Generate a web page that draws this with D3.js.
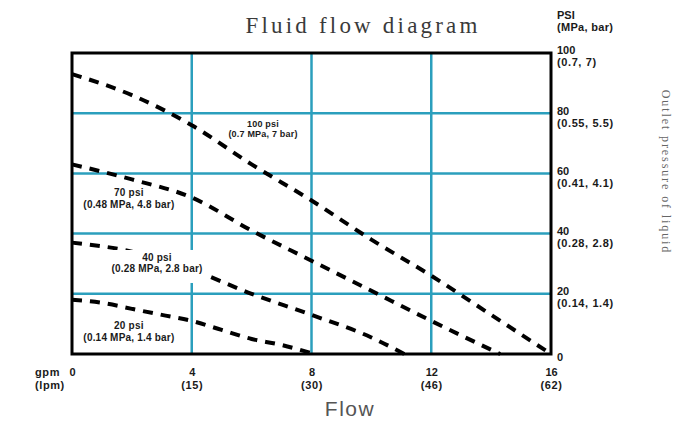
<!DOCTYPE html>
<html>
<head>
<meta charset="utf-8">
<script src="https://cdn.jsdelivr.net/npm/d3@7/dist/d3.min.js"></script>
<style>
  body { margin: 0; background: #fff; }
  svg { display: block; }
  .tick-num, .tick-sub, .unit { font-family: 'Liberation Sans', Arial, sans-serif; font-size: 11px; font-weight: bold; fill: #1a1a1a; }
  .curve-label { font-family: 'Liberation Sans', Arial, sans-serif; font-weight: bold; fill: #1a1a1a; }
</style>
</head>
<body>
<svg id="chart" width="693" height="424"></svg>
<script>
// flow (gpm) on x, outlet pressure (psi) on y
const gpmTicks = [0, 4, 8, 12, 16]
const lpmLabels = ['', '(15)', '(30)', '(46)', '(62)']
const psiTicks = [0, 20, 40, 60, 80, 100]
const psiSubLabels = ['', '(0.14, 1.4)', '(0.28, 2.8)', '(0.41, 4.1)', '(0.55, 5.5)', '(0.7, 7)']

const flow100 = [0, 2, 4, 6, 8, 10, 12, 14, 16]
const psi100 = [93, 86, 76, 63, 51, 38, 26, 13, 0]
const flow70 = [0, 2, 4, 6, 8, 10, 12, 14.3]
const psi70 = [63, 58, 52, 41, 31, 21, 11, 0]
const flow40 = [0, 2, 4, 6, 8, 10, 11.1]
const psi40 = [37, 34, 28, 20, 13, 5.5, 0]
const flow20 = [0, 1, 2, 3, 4, 5, 6, 7, 8.1]
const psi20 = [18, 17, 15, 13, 11, 8, 5, 3, 0]

const curveNames = ['100 psi', '70 psi', '40 psi', '20 psi']
const curveSubs = ['(0.7 MPa, 7 bar)', '(0.48 MPa, 4.8 bar)', '(0.28 MPa, 2.8 bar)', '(0.14 MPa, 1.4 bar)']

document.addEventListener('DOMContentLoaded', function () {
  drawChart()
})

function drawChart() {
  const svg = d3.select('#chart')
  const left = 72, right = 551, top = 53, bottom = 354
  const gridColor = '#2b9fbd'

  const x = d3.scaleLinear().domain([0, 16]).range([left, right])
  const y = d3.scaleLinear().domain([0, 100]).range([bottom, top])

  // grid
  svg.append('g')
    .selectAll('line')
    .data(gpmTicks.slice(1, -1))
    .join('line')
    .attr('x1', d => x(d)).attr('x2', d => x(d))
    .attr('y1', top).attr('y2', bottom)
    .attr('stroke', gridColor).attr('stroke-width', 2.5)
  svg.append('g')
    .selectAll('line')
    .data(psiTicks.slice(1, -1))
    .join('line')
    .attr('x1', left).attr('x2', right)
    .attr('y1', d => y(d)).attr('y2', d => y(d))
    .attr('stroke', gridColor).attr('stroke-width', 2.5)

  // dashed curves
  const series = [
    { flow: flow100, psi: psi100 },
    { flow: flow70, psi: psi70 },
    { flow: flow40, psi: psi40 },
    { flow: flow20, psi: psi20 }
  ]
  const line = d3.line().curve(d3.curveMonotoneX).x(d => x(d[0])).y(d => y(d[1]))
  svg.append('g')
    .selectAll('path')
    .data(series)
    .join('path')
    .attr('d', s => line(s.flow.map((f, i) => [f, s.psi[i]])))
    .attr('fill', 'none')
    .attr('stroke', '#000')
    .attr('stroke-width', 4)
    .attr('stroke-dasharray', '10,8')

  // curve labels (anchor in gpm / psi)
  const labelAt = [
    { gpm: 6.38, psi: 76.4, size: 9, gap: 10 },
    { gpm: 1.9, psi: 53.5, size: 10, gap: 12 },
    { gpm: 2.84, psi: 31.9, size: 10, gap: 11 },
    { gpm: 1.9, psi: 9.6, size: 10, gap: 12 }
  ]
  // white patch behind the 40 psi label (breaks curve and grid as in the original)
  svg.append('rect')
    .attr('x', x(labelAt[2].gpm) - 53).attr('y', y(labelAt[2].psi) - 8)
    .attr('width', 106).attr('height', 33)
    .attr('fill', '#fff')

  const labels = svg.append('g')
    .selectAll('g')
    .data(labelAt)
    .join('g')
    .attr('transform', d => `translate(${x(d.gpm)},${y(d.psi)})`)
  labels.append('text')
    .attr('class', 'curve-label')
    .attr('text-anchor', 'middle')
    .attr('dy', '0.35em')
    .style('font-size', d => d.size + 'px')
    .style('letter-spacing', '0.2px')
    .text((d, i) => curveNames[i])
  labels.append('text')
    .attr('class', 'curve-label')
    .attr('text-anchor', 'middle')
    .attr('y', d => d.gap)
    .attr('dy', '0.35em')
    .style('font-size', d => d.size + 'px')
    .style('letter-spacing', '0.2px')
    .text((d, i) => curveSubs[i])

  // frame
  svg.append('rect')
    .attr('x', left).attr('y', top)
    .attr('width', right - left).attr('height', bottom - top)
    .attr('fill', 'none')
    .attr('stroke', '#000')
    .attr('stroke-width', 3)

  // right axis: psi with MPa/bar underneath
  const yAxis = svg.append('g')
    .attr('transform', `translate(${right},0)`)
    .call(d3.axisRight(y).tickValues(psiTicks).tickSize(0).tickFormat(''))
  yAxis.select('.domain').remove()
  yAxis.selectAll('.tick').each(function (d, i) {
    const t = d3.select(this)
    const sub = psiSubLabels[i]
    t.append('text')
      .attr('class', 'tick-num')
      .attr('x', 6).attr('y', sub ? -3 : 3)
      .attr('dy', '0.35em')
      .attr('text-anchor', 'start')
      .text(d)
    if (sub) {
      t.append('text')
        .attr('class', 'tick-sub')
        .attr('x', 6).attr('y', 9)
        .attr('dy', '0.35em')
        .attr('text-anchor', 'start')
        .style('letter-spacing', '0.6px')
        .text(sub)
    }
  })
  svg.append('text').attr('class', 'unit')
    .attr('x', 557).attr('y', 15).attr('dy', '0.35em')
    .text('PSI')
  svg.append('text').attr('class', 'unit')
    .attr('x', 557).attr('y', 27).attr('dy', '0.35em')
    .style('letter-spacing', '0.3px')
    .text('(MPa, bar)')

  // bottom axis: gpm with lpm underneath
  const xAxis = svg.append('g')
    .attr('transform', `translate(0,${bottom})`)
    .call(d3.axisBottom(x).tickValues(gpmTicks).tickSize(0).tickFormat(''))
  xAxis.select('.domain').remove()
  xAxis.selectAll('.tick').each(function (d, i) {
    const t = d3.select(this)
    t.append('text')
      .attr('class', 'tick-num')
      .attr('y', 18).attr('dy', '0.35em')
      .attr('text-anchor', 'middle')
      .text(d)
    if (lpmLabels[i]) {
      t.append('text')
        .attr('class', 'tick-sub')
        .attr('y', 31).attr('dy', '0.35em')
        .attr('text-anchor', 'middle')
        .style('letter-spacing', '0.6px')
        .text(lpmLabels[i])
    }
  })
  svg.append('text').attr('class', 'unit')
    .attr('x', 35).attr('y', bottom + 18).attr('dy', '0.35em')
    .style('letter-spacing', '0.6px')
    .text('gpm')
  svg.append('text').attr('class', 'unit')
    .attr('x', 35).attr('y', bottom + 31).attr('dy', '0.35em')
    .style('letter-spacing', '0.6px')
    .text('(lpm)')

  // titles
  svg.append('text')
    .attr('x', 363).attr('y', 33)
    .attr('text-anchor', 'middle')
    .style('font-family', "'Liberation Serif', 'DejaVu Serif', serif")
    .style('font-size', '23px')
    .style('letter-spacing', '3.2px')
    .style('fill', '#3a3a3a')
    .text('Fluid flow diagram')

  svg.append('text')
    .attr('x', 350).attr('y', 416)
    .attr('text-anchor', 'middle')
    .style('font-family', "'Liberation Sans', Arial, sans-serif")
    .style('font-size', '21px')
    .style('letter-spacing', '1.5px')
    .style('fill', '#555')
    .text('Flow')

  svg.append('text')
    .attr('transform', 'translate(662,172) rotate(90)')
    .attr('text-anchor', 'middle')
    .style('font-family', "'Liberation Serif', 'DejaVu Serif', serif")
    .style('font-size', '12px')
    .style('letter-spacing', '1.9px')
    .style('fill', '#666')
    .text('Outlet pressure of liquid')
}
</script>
</body>
</html>
